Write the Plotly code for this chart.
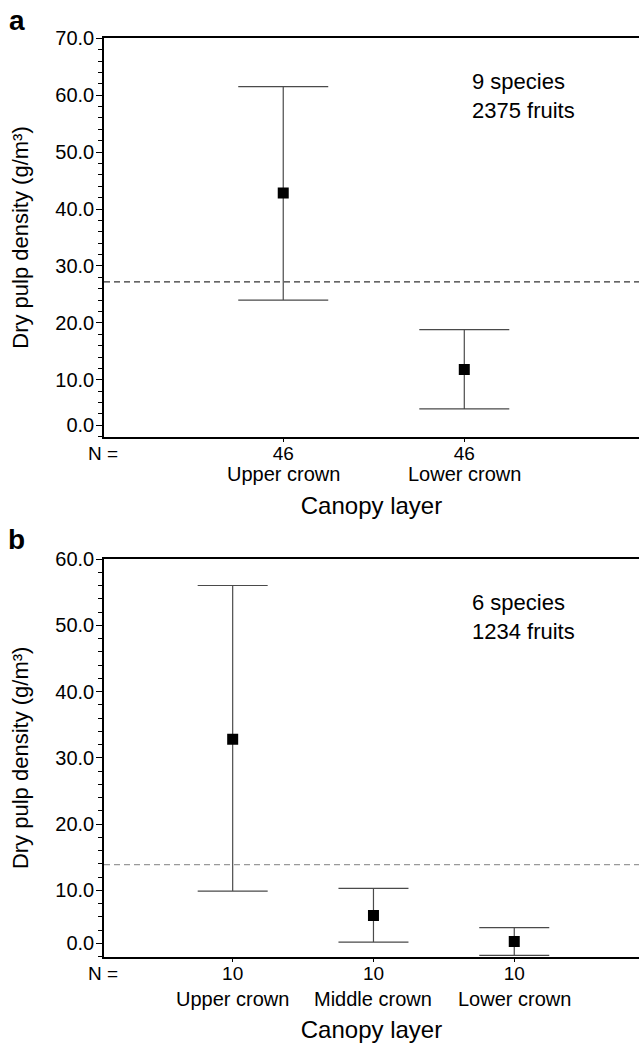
import plotly.graph_objects as go

# ---------------- data ----------------
a_cats = ["Upper crown", "Lower crown"]
a_n = [46, 46]
a_mean = [42.8, 11.8]
a_low = [24.0, 4.9]
a_high = [61.5, 18.8]
a_ref = 27.2
a_note = ["9 species", "2375 fruits"]

b_cats = ["Upper crown", "Middle crown", "Lower crown"]
b_n = [10, 10, 10]
b_mean = [32.8, 6.2, 2.3]
b_low = [9.9, 2.2, 0.2]
b_high = [56.0, 10.3, 4.4]
b_ref = 13.9
b_note = ["6 species", "1234 fruits"]

a_ytick_vals = [2, 10, 20, 30, 40, 50, 60, 70]
a_ytick_text = ["0.0", "10.0", "20.0", "30.0", "40.0", "50.0", "60.0", "70.0"]
b_ytick_vals = [2, 10, 20, 30, 40, 50, 60]
b_ytick_text = ["0.0", "10.0", "20.0", "30.0", "40.0", "50.0", "60.0"]

FONT = "Liberation Sans, Arial, sans-serif"
W, H = 639, 1045
L = 104

fig = go.Figure()


def add_panel(cats, n, mean, low, high, xa, ya, capw):
    xs = list(range(1, len(cats) + 1))
    plus = [h - m for h, m in zip(high, mean)]
    minus = [m - lo for m, lo in zip(mean, low)]
    fig.add_trace(go.Scatter(
        x=xs, y=mean, mode="markers", xaxis=xa, yaxis=ya,
        marker=dict(symbol="square", size=11, color="black"),
        error_y=dict(type="data", symmetric=False, array=plus, arrayminus=minus,
                     color="#4a4a4a", thickness=1.2, width=capw),
        showlegend=False, hoverinfo="skip"))
    return xs


a_x = add_panel(a_cats, a_n, a_mean, a_low, a_high, "x", "y", 45)
b_x = add_panel(b_cats, b_n, b_mean, b_low, b_high, "x2", "y2", 35)

# reference (mean) dashed lines
fig.add_shape(type="line", xref="x domain", yref="y", x0=0, x1=1, y0=a_ref, y1=a_ref,
              line=dict(color="#333333", width=1.2, dash="6px,4px"))
fig.add_shape(type="line", xref="x2 domain", yref="y2", x0=0, x1=1, y0=b_ref, y1=b_ref,
              line=dict(color="#999999", width=1.2, dash="6px,4px"))

ya_dom = [1 - 436.7 / H, 1 - 38.3 / H]
yb_dom = [1 - 956.7 / H, 1 - 559 / H]

common_x = dict(showline=True, linecolor="black", linewidth=2, mirror=True,
                ticks="outside", ticklen=3, tickcolor="black", showgrid=False,
                zeroline=False, tickfont=dict(family=FONT, size=19, color="black"),
                ticklabelstandoff=-5, automargin=False)
common_y = dict(showline=True, linecolor="black", linewidth=1.5, mirror=False,
                ticks="outside", ticklen=6, tickcolor="black", showgrid=False,
                zeroline=False, tickfont=dict(family=FONT, size=20, color="black"),
                ticklabelstandoff=-2,
                minor=dict(dtick=2, ticks="outside", ticklen=4, tickcolor="black"),
                automargin=False,
                title=dict(text="Dry pulp density (g/m³)",
                           font=dict(family=FONT, size=22, color="black"), standoff=21))

fig.update_layout(
    width=W, height=H,
    margin=dict(l=L, r=0, t=0, b=0),
    paper_bgcolor="white", plot_bgcolor="white",
    xaxis=dict(common_x, domain=[0, 1], anchor="y", range=[0.01, 2.965],
               tickvals=a_x, ticktext=[str(k) for k in a_n],
               title=dict(text="Canopy layer", font=dict(family=FONT, size=24, color="black"),
                          standoff=35)),
    yaxis=dict(common_y, domain=ya_dom, anchor="x", range=[0, 70],
               tickvals=a_ytick_vals, ticktext=a_ytick_text),
    xaxis2=dict(common_x, domain=[0, 1], anchor="y2", range=[0.086, 3.886],
                tickvals=b_x, ticktext=[str(k) for k in b_n],
                title=dict(text="Canopy layer", font=dict(family=FONT, size=24, color="black"),
                           standoff=39)),
    yaxis2=dict(common_y, domain=yb_dom, anchor="x2", range=[0, 60],
                tickvals=b_ytick_vals, ticktext=b_ytick_text),
)

PW = W - L


def px_x(p):
    return (p - L) / PW


def px_y(p):
    return 1 - p / H


# category names under the N counts, placed on the category axes
for xs, cats, xr, ypx in ((a_x, a_cats, "x", 474), (b_x, b_cats, "x2", 999)):
    for xv, c in zip(xs, cats):
        fig.add_annotation(text=c, xref=xr, yref="paper", x=xv, y=px_y(ypx),
                           xanchor="center", yanchor="middle", showarrow=False,
                           font=dict(family=FONT, size=20, color="black"))

annos = [
    dict(text="<b>a</b>", x=px_x(16.7), y=px_y(20.5), size=28, xa="center"),
    dict(text="<b>b</b>", x=px_x(16.7), y=px_y(539), size=28, xa="center"),
    dict(text="<br>".join(a_note), x=px_x(470), y=px_y(96), size=22, xa="left"),
    dict(text="<br>".join(b_note), x=px_x(470), y=px_y(617), size=22, xa="left"),
    dict(text="N =", x=px_x(103), y=px_y(453), size=19, xa="center"),
    dict(text="N =", x=px_x(103), y=px_y(973), size=19, xa="center"),
]
for a in annos:
    fig.add_annotation(text=a["text"], xref="paper", yref="paper", x=a["x"], y=a["y"],
                       xanchor=a["xa"], yanchor="middle", showarrow=False, align="left",
                       font=dict(family=FONT, size=a["size"], color="black"))

fig.write_html("out.html", config={"displayModeBar": False},
               post_script="document.body.style.margin='0';document.body.style.padding='0';")
